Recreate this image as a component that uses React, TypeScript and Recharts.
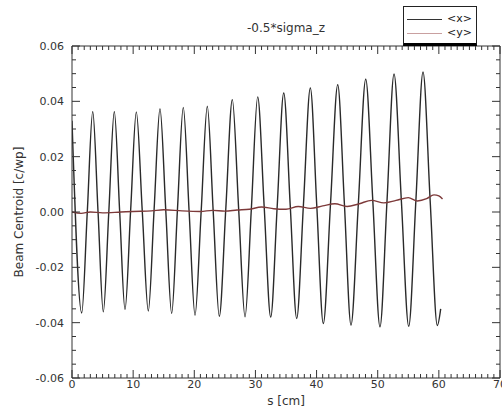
import { LineChart, Line, XAxis, YAxis, Legend } from 'recharts';

// <x> centroid: extrema and crossings
const xS = [
  0, 1.59, 2.5, 3.39, 4.26, 5.12, 6.02, 6.92, 7.8, 8.67, 9.6, 10.52, 11.5, 12.48,
  13.43, 14.39, 15.35, 16.3, 17.25, 18.2, 19.16, 20.12, 21.12, 22.13, 23.1, 24.09,
  25.15, 26.22, 27.26, 28.3, 29.33, 30.37, 31.43, 32.5, 33.56, 34.63, 35.7, 36.75,
  37.86, 38.98, 40.04, 41.1, 42.28, 43.46, 44.55, 45.63, 46.83, 48.04, 49.2, 50.37,
  51.52, 52.67, 53.87, 55.07, 56.24, 57.41, 58.58, 59.75, 60.3,
];
const xVals = [
  0.033, -0.0365, 0.0, 0.0363, 0.0, -0.0361, 0.0, 0.0363, 0.0, -0.0353, 0.001, 0.0362, 0.0, -0.0358,
  0.001, 0.0373, 0.0, -0.0367, 0.001, 0.0378, 0.0, -0.0373, 0.0, 0.0382, 0.0, -0.0377,
  0.001, 0.0406, 0.001, -0.0379, 0.001, 0.0416, 0.002, -0.038, 0.002, 0.043, 0.002, -0.0385,
  0.003, 0.0448, 0.002, -0.0403, 0.003, 0.046, 0.003, -0.0409, 0.003, 0.048, 0.004, -0.0415,
  0.004, 0.0499, 0.004, -0.0413, 0.004, 0.0506, 0.004, -0.041, -0.035,
];

// <y> centroid
const yS = [
  0, 1.5, 3, 5, 8, 10, 13, 15, 18, 21, 23, 25, 27, 29, 31, 33, 35, 37, 39, 41, 43,
  45, 47, 49, 51, 53, 55, 56.5, 58, 59.2, 60, 60.6,
];
const yVals = [
  0, -0.0005, 0.0, -0.0003, 0.0, 0.0002, 0.0004, 0.0008, 0.0004, 0.0002, 0.0006, 0.0003,
  0.0007, 0.001, 0.0018, 0.0012, 0.001, 0.002, 0.0013, 0.0022, 0.003, 0.002, 0.003,
  0.0042, 0.0033, 0.0042, 0.0052, 0.004, 0.0048, 0.0062, 0.0058, 0.0047,
];

const xMajor = [0, 10, 20, 30, 40, 50, 60, 70];
const yMajor = [-0.06, -0.04, -0.02, 0, 0.02, 0.04, 0.06];

const xTicks = Array.from({ length: 71 }, (_, i) => i);
const yTicks = Array.from({ length: 25 }, (_, i) => Math.round((-0.06 + i * 0.005) * 1000) / 1000);

// <y> is hooked to the top/right axes (same domains) so that those axes get drawn
const series = [
  { key: 'x', name: '<x>', color: '#2a2a2a', legendColor: '#333', xAxis: 'b', yAxis: 'l', data: xS.map((s, i) => ({ s, v: xVals[i] })) },
  { key: 'y', name: '<y>', color: '#7d3a3a', legendColor: '#c9a0a0', xAxis: 't', yAxis: 'r', data: yS.map((s, i) => ({ s, v: yVals[i] })) },
];

const FONT = '"DejaVu Sans", sans-serif';
const INK = '#333';
const isMajorX = (v: number) => xMajor.includes(v);
const isMajorY = (v: number) => yMajor.some((m) => Math.abs(m - v) < 1e-9);

const BottomTick = ({ x, y, payload }: any) => {
  const major = isMajorX(payload.value);
  return (
    <g>
      <line x1={x} x2={x} y1={y} y2={y - (major ? 8 : 4)} stroke={INK} />
      {major && (
        <text x={x} y={y + 10} textAnchor="middle" fontSize={11} fontFamily={FONT} fill={INK}>
          {payload.value}
        </text>
      )}
    </g>
  );
};

const TopTick = ({ x, y, payload }: any) => (
  <line x1={x} x2={x} y1={y} y2={y + (isMajorX(payload.value) ? 8 : 4)} stroke={INK} />
);

const LeftTick = ({ x, y, payload }: any) => {
  const major = isMajorY(payload.value);
  return (
    <g>
      <line x1={x} x2={x + (major ? 8 : 4)} y1={y} y2={y} stroke={INK} />
      {major && (
        <text x={x - 8} y={y} dy="0.36em" textAnchor="end" fontSize={11} fontFamily={FONT} fill={INK}>
          {payload.value.toFixed(2)}
        </text>
      )}
    </g>
  );
};

const RightTick = ({ x, y, payload }: any) => (
  <line x1={x} x2={x - (isMajorY(payload.value) ? 8 : 4)} y1={y} y2={y} stroke={INK} />
);

const LegendBox = () => (
  <div
    style={{
      width: 72,
      height: 36,
      background: '#fff',
      border: '1px solid #222',
      borderBottom: '3px solid #000',
      fontFamily: FONT,
      fontSize: 11,
      color: '#222',
    }}
  >
    {series.map((s, i) => (
      <div key={s.key} style={{ display: 'flex', alignItems: 'center', height: 14, marginTop: i === 0 ? 5 : 0 }}>
        <div style={{ width: 35, borderTop: `1px solid ${s.legendColor}`, marginLeft: 3 }} />
        <span style={{ marginLeft: 5, lineHeight: '14px' }}>{s.name}</span>
      </div>
    ))}
  </div>
);

export default function App() {
  return (
    <div style={{ position: 'absolute', left: 0, top: 0, width: 502, height: 410, background: '#fff' }}>
      <LineChart width={502} height={410} margin={{ top: 45, right: 1, bottom: 0, left: 0 }}>
        <XAxis
          xAxisId="b"
          dataKey="s"
          type="number"
          domain={[0, 70]}
          allowDataOverflow
          ticks={xTicks}
          interval={0}
          tickSize={0}
          tickMargin={0}
          height={32}
          tick={BottomTick}
          axisLine={{ stroke: INK }}
        />
        <XAxis
          xAxisId="t"
          dataKey="s"
          orientation="top"
          type="number"
          domain={[0, 70]}
          allowDataOverflow
          ticks={xTicks}
          interval={0}
          tickSize={0}
          tickMargin={0}
          height={1}
          tick={TopTick}
          axisLine={{ stroke: INK }}
        />
        <YAxis
          yAxisId="l"
          type="number"
          domain={[-0.06, 0.06]}
          allowDataOverflow
          ticks={yTicks}
          interval={0}
          tickSize={0}
          tickMargin={0}
          width={72}
          tick={LeftTick}
          axisLine={{ stroke: INK }}
        />
        <YAxis
          yAxisId="r"
          orientation="right"
          type="number"
          domain={[-0.06, 0.06]}
          allowDataOverflow
          ticks={yTicks}
          interval={0}
          tickSize={0}
          tickMargin={0}
          width={1}
          tick={RightTick}
          axisLine={{ stroke: INK }}
        />
        {series.map((s) => (
          <Line
            key={s.key}
            xAxisId={s.xAxis}
            yAxisId={s.yAxis}
            data={s.data}
            dataKey="v"
            name={s.name}
            type="monotone"
            stroke={s.color}
            strokeWidth={1.4}
            dot={false}
            isAnimationActive={false}
          />
        ))}
        <Legend
          layout="vertical"
          align="center"
          verticalAlign="middle"
          wrapperStyle={{ left: 403, top: 6, width: 76 }}
          content={LegendBox}
        />
      </LineChart>
      <div style={{ position: 'absolute', left: 0, width: 572, top: 21, textAlign: 'center', fontFamily: FONT, fontSize: 12, color: INK }}>
        -0.5*sigma_z
      </div>
      <div style={{ position: 'absolute', left: 0, width: 572, top: 394, textAlign: 'center', fontFamily: FONT, fontSize: 12, color: INK }}>
        s [cm]
      </div>
      <div
        style={{
          position: 'absolute',
          left: 19,
          top: 212,
          transform: 'translate(-50%, -50%) rotate(-90deg)',
          whiteSpace: 'nowrap',
          fontFamily: FONT,
          fontSize: 12,
          color: INK,
        }}
      >
        Beam Centroid [c/wp]
      </div>
    </div>
  );
}
